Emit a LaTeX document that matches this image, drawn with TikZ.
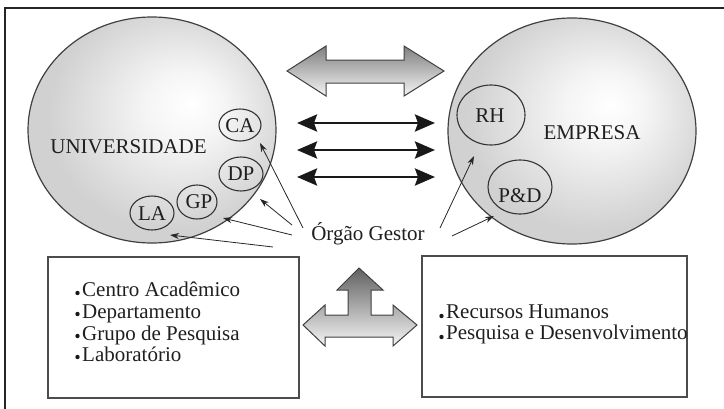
\documentclass[tikz,border=0pt]{standalone}
\usepackage{fontspec}
\setmainfont{Liberation Serif}
\usetikzlibrary{arrows.meta,shapes.geometric}
\pgfdeclareradialshading{ellshade}{\pgfpoint{8bp}{6bp}}{color(0bp)=(white); color(8bp)=(white!96!black); color(25bp)=(black!18); color(50bp)=(black!18)}
\begin{document}
\begin{tikzpicture}[x=1pt,y=-1pt,
  bigell/.style={ellipse, draw=black!75, line width=1.2pt, shade, shading=ellshade, minimum width=248pt, minimum height=226pt, inner sep=0pt},
  smallc/.style={ellipse, draw=black!80, line width=1.1pt, inner sep=0pt},
  lbl/.style={font=\fontsize{21}{24}\selectfont, text=black!88, inner sep=0pt, anchor=base},
  item/.style={font=\fontsize{21}{24}\selectfont, text=black!88, inner sep=0pt, anchor=base west},
  bul/.style={fill=black!90},
  infobox/.style={draw=black!70, line width=1.4pt},
  fatarrow/.style={draw=black!75, line width=1pt},
  dbl/.style={line width=2.8pt, draw=black!90, {Stealth[length=20pt,width=17pt,inset=3pt]}-{Stealth[length=20pt,width=17pt,inset=3pt]}},
  ptr/.style={line width=0.8pt, draw=black!85, -{Stealth[length=9pt,width=6pt]}}]
\useasboundingbox (0,0) rectangle (724,408);
% frame
\draw[line width=1.5pt, black!85] (5,8) rectangle (780,460);

% big ellipses
\node[bigell] (univ) at (152,130) {};
\node[bigell] (emp) at (572,131) {};
\node[lbl] (univt) at (128.5,153) {UNIVERSIDADE};
\node[lbl] (empt) at (592,139) {EMPRESA};

% small circles
\node[smallc, minimum width=42pt, minimum height=32pt] (ca) at (240,125) {};
\node[smallc, minimum width=44pt, minimum height=34pt] (dp) at (241,174) {};
\node[smallc, minimum width=40pt, minimum height=34pt] (gp) at (197,202) {};
\node[smallc, minimum width=44pt, minimum height=34pt] (la) at (152,213) {};
\node[smallc, minimum width=68pt, minimum height=60pt] (rh) at (491,115) {};
\node[smallc, minimum width=64pt, minimum height=54pt] (pd) at (520,187) {};
\node[lbl] (cat) at (240,132) {CA};
\node[lbl] (dpt) at (241,180.5) {DP};
\node[lbl] (gpt) at (199,208) {GP};
\node[lbl] (lat) at (152,220) {LA};
\node[lbl] (rht) at (490,122) {RH};
\node[lbl] (pdt) at (520,202) {P\&D};

% top gradient double arrow
\draw[fatarrow, top color=black!50, bottom color=black!4]
  (287,71) -- (326,46) -- (326,60) -- (404,60) -- (404,46) -- (444,71)
  -- (404,96) -- (404,83) -- (326,83) -- (326,96) -- cycle;

% black double arrows
\coordinate (a1l) at (297,123); \coordinate (a1r) at (435,123);
\coordinate (a2l) at (297,150); \coordinate (a2r) at (435,150);
\coordinate (a3l) at (297,177); \coordinate (a3r) at (435,177);
\draw[dbl] (a1l) -- (a1r);
\draw[dbl] (a2l) -- (a2r);
\draw[dbl] (a3l) -- (a3r);

% Orgao Gestor
\node[lbl] (og) at (368,240) {Órgão Gestor};
\coordinate (sCA) at (303,228); \coordinate (tCA) at (260,143);
\coordinate (sDP) at (292,225); \coordinate (tDP) at (260,199);
\coordinate (sGP) at (292,235); \coordinate (tGP) at (223,218);
\coordinate (sLA) at (273,247); \coordinate (tLA) at (170,235);
\coordinate (sRH) at (440,228); \coordinate (tRH) at (474,156);
\coordinate (sPD) at (452,236); \coordinate (tPD) at (494,216);
\draw[ptr] (sCA) -- (tCA);
\draw[ptr] (sDP) -- (tDP);
\draw[ptr] (sGP) -- (tGP);
\draw[ptr] (sLA) -- (tLA);
\draw[ptr] (sRH) -- (tRH);
\draw[ptr] (sPD) -- (tPD);

% boxes
\draw[infobox] (48,257) rectangle (299,398);
\draw[infobox] (422,256) rectangle (687,397);
\node[item] (l1) at (82,296) {Centro Acadêmico};
\node[item] (l2) at (82,318) {Departamento};
\node[item] (l3) at (82,340) {Grupo de Pesquisa};
\node[item] (l4) at (82,361) {Laboratório};
\node[item] (r1) at (446,318) {Recursos Humanos};
\node[item] (r2) at (446,339) {Pesquisa e Desenvolvimento};
\fill[bul] (77.5,293) circle (2.2);
\fill[bul] (77.5,314) circle (2.2);
\fill[bul] (77.5,336) circle (2.2);
\fill[bul] (77.5,357) circle (2.2);
\fill[bul] (441.5,316) circle (2.2);
\fill[bul] (441.5,337) circle (2.2);

% bottom three-way arrow
\draw[fatarrow, top color=black!62, bottom color=black!4]
  (359,268) -- (383,290) -- (371,290) -- (371,315) -- (393,315) -- (393,305)
  -- (417,325) -- (393,346) -- (393,337) -- (325,337) -- (325,346)
  -- (303,325) -- (325,305) -- (325,315) -- (348,315) -- (348,290)
  -- (337,290) -- cycle;
\end{tikzpicture}
\end{document}
